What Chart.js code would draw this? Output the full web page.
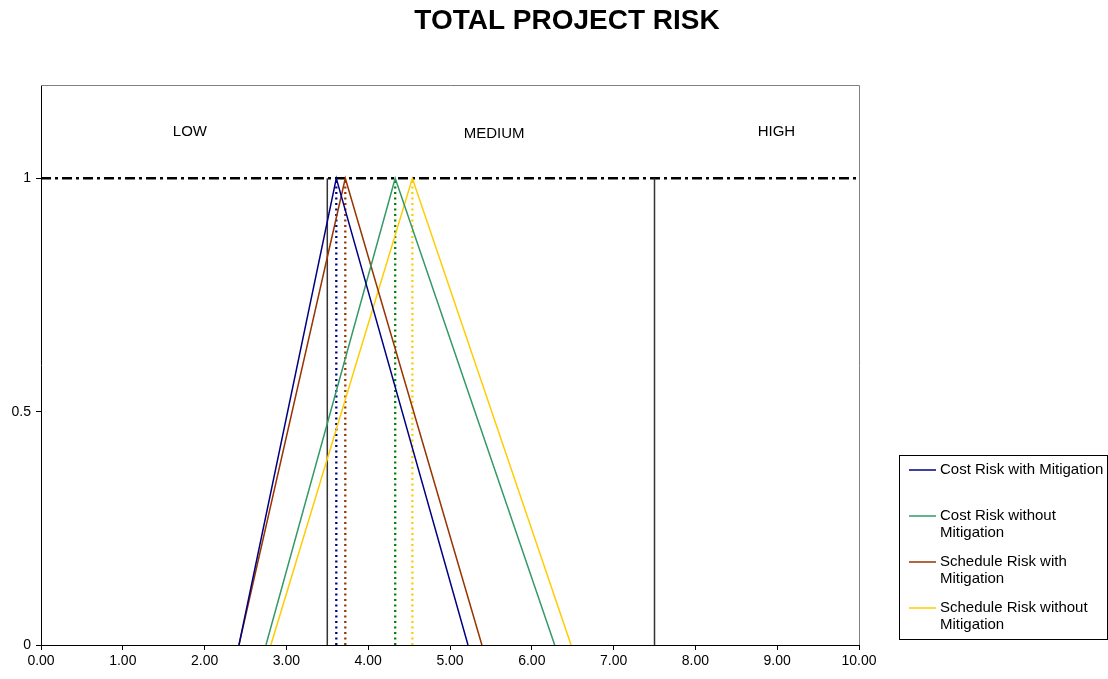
<!DOCTYPE html>
<html>
<head>
<meta charset="utf-8">
<script src="https://cdn.jsdelivr.net/npm/chart.js@4/dist/chart.umd.min.js"></script>
<style>
  html, body { margin: 0; padding: 0; background: #fff; }
  #wrap { width: 1108px; height: 679px; position: relative; }
</style>
</head>
<body>
<div id="wrap"><canvas id="chart" width="1108" height="679"></canvas></div>
<script>
const chartTitle = "TOTAL PROJECT RISK";

// triangle series: foot left, peak, foot right
const seriesNames = [
  ["Cost Risk with Mitigation"],
  ["Cost Risk without", "Mitigation"],
  ["Schedule Risk with", "Mitigation"],
  ["Schedule Risk without", "Mitigation"],
];
const lowValues = [2.42, 2.75, 2.42, 2.81];
const peakValues = [3.61, 4.33, 3.72, 4.54];
const highValues = [5.22, 6.28, 5.39, 6.48];
const lineColours = ["#000080", "#339966", "#993300", "#FFCC00"];
const dotColours = ["#000080", "#008000", "#993300", "#FFCC00"];

// zone boundaries and labels
const zoneBounds = [3.5, 7.5];
const zoneLabels = ["LOW", "MEDIUM", "HIGH"];
const zoneLabelX = [1.82, 5.54, 8.99];
const zoneLabelY = [1.1, 1.095, 1.1];

const xTicks = [0, 1, 2, 3, 4, 5, 6, 7, 8, 9, 10];
const yTicks = [0, 0.5, 1];

const FONT = "'Liberation Sans', Arial, sans-serif";

const datasets = [];

seriesNames.forEach((name, i) => {
  datasets.push({
    label: name.join(" "),
    data: [
      { x: lowValues[i], y: 0 },
      { x: peakValues[i], y: 1 },
      { x: highValues[i], y: 0 },
    ],
    borderColor: lineColours[i],
    borderWidth: 1.5,
    pointRadius: 0,
    tension: 0,
  });
});

seriesNames.forEach((name, i) => {
  datasets.push({
    label: "peak " + i,
    data: [
      { x: peakValues[i], y: 0 },
      { x: peakValues[i], y: 1 },
    ],
    borderColor: dotColours[i],
    borderWidth: 2.3,
    borderDash: [2, 3.5],
    pointRadius: 0,
  });
});

zoneBounds.forEach((b) => {
  datasets.push({
    label: "bound " + b,
    data: [
      { x: b, y: 0 },
      { x: b, y: 1 },
    ],
    borderColor: "#333",
    borderWidth: 1.5,
    pointRadius: 0,
  });
});

datasets.push({
  label: "max",
  data: [
    { x: xTicks[0], y: 1 },
    { x: xTicks[xTicks.length - 1], y: 1 },
  ],
  borderColor: "#000",
  borderWidth: 2.5,
  borderDash: [10, 4, 3, 4],
  pointRadius: 0,
});

const decorations = {
  id: "decorations",
  afterDraw(chart) {
    const { ctx, chartArea, scales } = chart;
    ctx.save();

    // grey frame on top and right of plot area
    ctx.strokeStyle = "#808080";
    ctx.lineWidth = 1;
    ctx.beginPath();
    ctx.moveTo(chartArea.left, chartArea.top + 0.5);
    ctx.lineTo(chartArea.right + 0.5, chartArea.top + 0.5);
    ctx.lineTo(chartArea.right + 0.5, chartArea.bottom);
    ctx.stroke();

    // title
    ctx.fillStyle = "#000";
    ctx.font = "bold 28px " + FONT;
    ctx.textAlign = "center";
    ctx.textBaseline = "middle";
    ctx.fillText(chartTitle, 567, 21);

    // zone labels
    ctx.font = "15px " + FONT;
    zoneLabels.forEach((t, i) => {
      ctx.fillText(t, scales.x.getPixelForValue(zoneLabelX[i]), scales.y.getPixelForValue(zoneLabelY[i]));
    });

    // legend
    const lx = 899.5, ly = 455.5, lw = 208, lh = 184;
    ctx.strokeStyle = "#000";
    ctx.lineWidth = 1;
    ctx.strokeRect(lx, ly, lw, lh);
    ctx.textAlign = "left";
    ctx.font = "15px " + FONT;
    seriesNames.forEach((lines, i) => {
      const y = 470 + i * 46;
      ctx.strokeStyle = lineColours[i];
      ctx.lineWidth = 1.5;
      ctx.beginPath();
      ctx.moveTo(909, y);
      ctx.lineTo(936, y);
      ctx.stroke();
      ctx.fillStyle = "#000";
      lines.forEach((ln, j) => {
        ctx.fillText(ln, 940, y + j * 17);
      });
    });

    ctx.restore();
  },
};

new Chart(document.getElementById("chart"), {
  type: "line",
  data: { datasets },
  options: {
    responsive: false,
    animation: false,
    layout: { padding: { top: 85, right: 249, left: 0, bottom: 0 } },
    plugins: {
      legend: { display: false },
      title: { display: false },
      tooltip: { enabled: false },
    },
    scales: {
      x: {
        type: "linear",
        min: 0,
        max: 10,
        afterFit(scale) { scale.height = 34; },
        afterBuildTicks(scale) { scale.ticks = xTicks.map((v) => ({ value: v })); },
        grid: { drawOnChartArea: false, tickLength: 5, color: "#000" },
        border: { color: "#000", width: 1 },
        ticks: {
          color: "#000",
          font: { family: FONT, size: 14 },
          padding: 3,
          maxRotation: 0,
          callback: (v) => Number(v).toFixed(2),
        },
      },
      y: {
        type: "linear",
        min: 0,
        max: 1.2,
        afterFit(scale) { scale.width = 41; },
        afterBuildTicks(scale) { scale.ticks = yTicks.map((v) => ({ value: v })); },
        grid: { drawOnChartArea: false, tickLength: 5, color: "#000" },
        border: { color: "#000", width: 1 },
        ticks: {
          color: "#000",
          font: { family: FONT, size: 14 },
          padding: 5,
          callback: (v) => String(v),
        },
      },
    },
  },
  plugins: [decorations],
});
</script>
</body>
</html>
